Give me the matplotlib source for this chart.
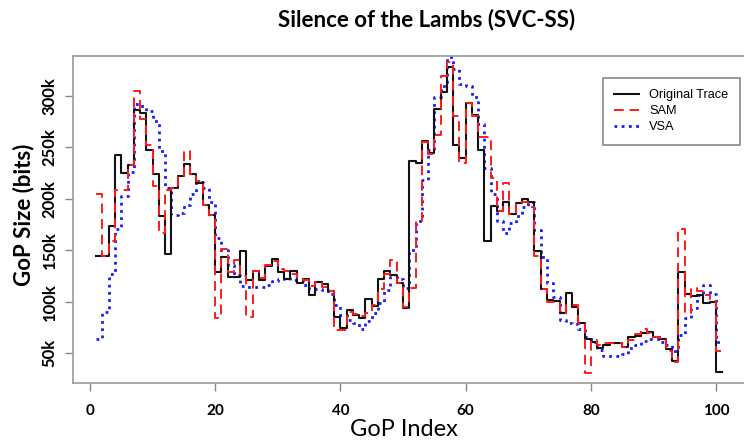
import matplotlib
matplotlib.use("Agg")
import matplotlib.pyplot as plt
import numpy as np

gop_index = list(range(1, 102))

original_trace = [144, 144, 174, 242, 225, 233, 286, 283, 247, 224,
                  183, 146, 210, 222, 234, 224, 215, 194, 184, 129,
                  143, 124, 124, 149, 121, 130, 121, 135, 142, 129,
                  122, 130, 118, 122, 107, 119, 117, 110, 85, 75,
                  92, 87, 84, 103, 96, 122, 130, 126, 118, 94,
                  237, 235, 256, 244, 287, 304, 328, 252, 240, 293,
                  281, 247, 159, 193, 188, 197, 185, 196, 200, 197,
                  149, 112, 102, 101, 89, 109, 95, 79, 64, 61,
                  55, 58, 60, 60, 56, 66, 67, 70, 71, 66,
                  64, 54, 43, 129, 108, 106, 107, 99, 100, 32, 32]

sam = [205, 144, 159, 208, 208, 233, 305, 277, 252, 212,
       167, 208, 210, 221, 246, 224, 217, 194, 184, 84,
       151, 129, 141, 125, 85, 130, 123, 136, 140, 132,
       130, 127, 122, 121, 115, 119, 114, 110, 73, 73,
       90, 88, 86, 89, 97, 112, 127, 141, 118, 95,
       113, 178, 255, 243, 262, 319, 333, 280, 235, 293,
       280, 260, 260, 220, 188, 215, 185, 195, 197, 192,
       144, 112, 100, 100, 89, 97, 97, 79, 31, 63,
       58, 60, 60, 60, 56, 63, 69, 74, 70, 66,
       63, 52, 42, 171, 89, 113, 110, 107, 101, 52, 52]

vsa = [64, 90, 127, 171, 203, 226, 292, 290, 285, 275,
       246, 210, 184, 186, 194, 205, 216, 210, 197, 162,
       150, 136, 126, 115, 114, 114, 114, 116, 120, 122,
       123, 121, 121, 116, 112, 112, 111, 108, 97, 87,
       82, 79, 74, 81, 89, 99, 111, 124, 122, 113,
       150, 178, 218, 247, 299, 309, 338, 326, 311, 309,
       299, 273, 230, 205, 178, 167, 176, 183, 192, 197,
       170, 143, 118, 105, 82, 79, 78, 74, 66, 61,
       53, 47, 47, 47, 49, 55, 58, 62, 64, 64,
       61, 58, 52, 68, 84, 94, 107, 116, 108, 61, 61]

x_ticks = [0, 20, 40, 60, 80, 100]
y_ticks = [50, 100, 150, 200, 250, 300]
y_tick_labels = ["50k", "100k", "150k", "200k", "250k", "300k"]

BOLD = "Lato"

fig = plt.figure(figsize=(7.44, 4.41), dpi=100)
ax = fig.add_axes([72.7 / 744, 1 - 383 / 441, (747 - 72.7) / 744, (383 - 56) / 441])

x = np.array(gop_index)
ax.step(x, np.array(original_trace) * 1000, where="post", color="#111111", lw=1.5,
        label="Original Trace", zorder=3)
ax.step(x, np.array(sam) * 1000, where="post", color="#ff1a1a", lw=1.4,
        linestyle=(0, (5, 3)), label="SAM", zorder=4)
ax.step(x, np.array(vsa) * 1000, where="post", color="#1a1aff", lw=2.0,
        linestyle=(0, (1, 1.6)), label="VSA", zorder=2)

ax.set_xlim(-2.76, 104.95)
ax.set_ylim(21200, 338500)

ax.set_xticks(x_ticks)
ax.set_xticklabels([str(t) for t in x_ticks], fontfamily=BOLD, fontweight="bold", fontsize=11)
ax.set_yticks([v * 1000 for v in y_ticks])
ax.set_yticklabels(y_tick_labels, fontfamily=BOLD, fontweight="bold", fontsize=12,
                   rotation=90, va="center")

ax.tick_params(axis="both", direction="out", length=6, width=1, color="#888888", pad=9)
ax.tick_params(axis="y", pad=5)
for s in ax.spines.values():
    s.set_color("#999999")
    s.set_linewidth(1.2)

fig.text(427 / 744, 1 - 20 / 441, "Silence of the Lambs (SVC-SS)", ha="center", va="center",
         fontfamily=BOLD, fontweight="bold", fontsize=16)
fig.text(404 / 744, 1 - 430 / 441, "GoP Index", ha="center", va="center",
         fontfamily=BOLD, fontsize=17)
fig.text(24 / 744, 1 - 215 / 441, "GoP Size (bits)", ha="center", va="center",
         rotation=90, fontfamily=BOLD, fontweight="bold", fontsize=16)

leg = ax.legend(loc="upper left", bbox_to_anchor=((603 - 72.7) / (747 - 72.7), 1 - (78 - 56) / 327),
                frameon=True, fancybox=False, framealpha=1, edgecolor="#888888",
                prop={"family": "Liberation Sans", "size": 9.2}, handlelength=1.9,
                borderpad=0.9, labelspacing=0.3, handletextpad=0.8, borderaxespad=0)
leg.get_frame().set_linewidth(1.2)

fig.savefig("out.png", dpi=100)
